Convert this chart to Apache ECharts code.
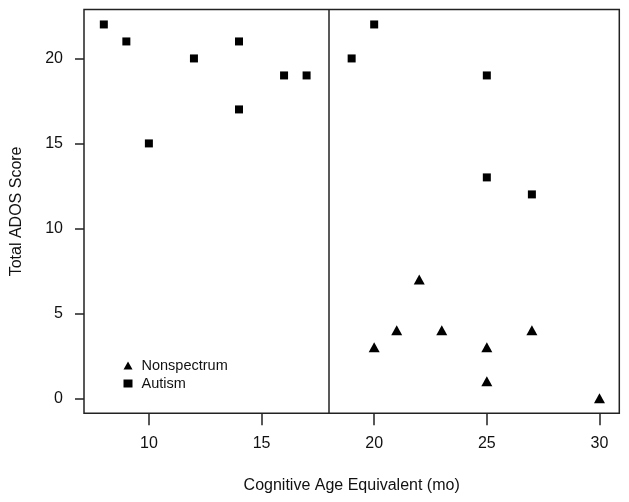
<!DOCTYPE html>
<html>
<head>
<meta charset="utf-8">
<script src="https://cdn.jsdelivr.net/npm/echarts@6/dist/echarts.min.js"></script>
<style>html,body{margin:0;padding:0;background:#fff}#c{width:629px;height:502px}</style>
</head>
<body>
<div id="c"></div>
<script>
const autismX = [8, 9, 10, 12, 14, 14, 16, 17, 19, 20, 25, 25, 27];
const autismY = [22, 21, 15, 20, 21, 17, 19, 19, 20, 22, 19, 13, 12];
const nonspecX = [20, 21, 22, 23, 25, 25, 27, 30];
const nonspecY = [3, 4, 7, 4, 3, 1, 4, 0];
const xTicks = [10, 15, 20, 25, 30];
const yTicks = [0, 5, 10, 15, 20];
const splitX = 18;

const pairs = (xs, ys) => xs.map((x, i) => [x, ys[i]]);
const font = 'Liberation Sans, Helvetica, Arial, sans-serif';

const chart = echarts.init(document.getElementById('c'), null, {renderer: 'canvas'});
chart.setOption({
  animation: false,
  backgroundColor: '#fff',
  grid: {left: 84, top: 9.5, right: 9.7, bottom: 88.7, show: true, borderColor: '#222', borderWidth: 1.5, backgroundColor: 'transparent'},
  xAxis: {
    type: 'value', min: 7.12, max: 30.88, position: 'bottom',
    name: 'Cognitive Age Equivalent (mo)', nameLocation: 'middle', nameGap: 64,
    nameTextStyle: {fontFamily: font, fontSize: 16, color: '#111'},
    axisLine: {show: false, onZero: false},
    splitLine: {show: false},
    axisTick: {show: true, inside: false, length: 12, customValues: xTicks, lineStyle: {color: '#222', width: 1.5}},
    axisLabel: {show: true, margin: 22, customValues: xTicks, fontFamily: font, fontSize: 16, color: '#111'}
  },
  yAxis: {
    type: 'value', min: -0.88, max: 22.88,
    name: 'Total ADOS Score', nameLocation: 'middle', nameGap: 59,
    nameTextStyle: {fontFamily: font, fontSize: 16, color: '#111'},
    axisLine: {show: false, onZero: false},
    splitLine: {show: false},
    axisTick: {show: true, inside: false, length: 9, customValues: yTicks, lineStyle: {color: '#222', width: 1.5}},
    axisLabel: {show: true, margin: 21, customValues: yTicks, fontFamily: font, fontSize: 16, color: '#111'}
  },
  legend: {
    orient: 'vertical', left: 123.5, top: 358, padding: 0, itemWidth: 9, itemHeight: 8, itemGap: 3,
    textStyle: {fontFamily: font, fontSize: 14.5, color: '#111', padding: [0, 0, 0, 4]},
    data: [{name: 'Nonspectrum', icon: 'triangle'}, {name: 'Autism', icon: 'rect'}]
  },
  series: [
    {
      name: 'Nonspectrum', type: 'scatter', symbol: 'triangle', symbolSize: [11, 10],
      itemStyle: {color: '#000', opacity: 1}, data: pairs(nonspecX, nonspecY),
      markLine: {
        silent: true, symbol: 'none', label: {show: false},
        lineStyle: {color: '#222', width: 1.5, type: 'solid'},
        data: [{xAxis: splitX}]
      }
    },
    {
      name: 'Autism', type: 'scatter', symbol: 'rect', symbolSize: 8,
      itemStyle: {color: '#000', opacity: 1}, data: pairs(autismX, autismY)
    }
  ]
});
</script>
</body>
</html>
